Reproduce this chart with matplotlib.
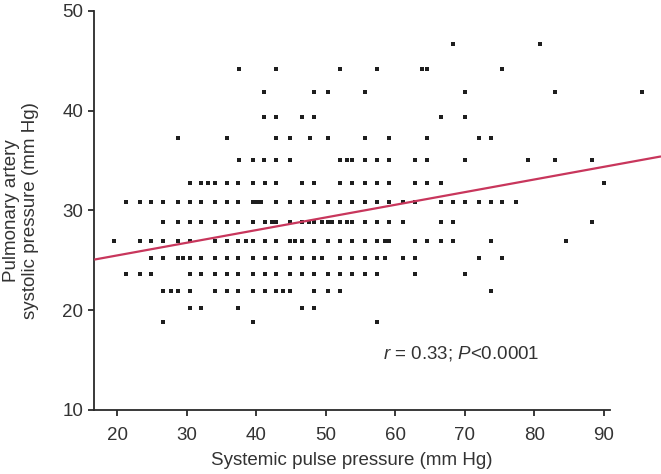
import matplotlib

matplotlib.use("Agg")
import matplotlib.pyplot as plt
import numpy as np

# PA systolic pressure levels (mm Hg) -- values are discretised, one list of
# systemic pulse pressures per level
pasp_levels = [46.7, 44.2, 41.9, 39.4, 37.2, 35.0, 32.7, 30.8,
               28.8, 26.9, 25.2, 23.6, 21.9, 20.2, 18.8]

pp_46_7 = [68.3, 80.8]
pp_44_2 = [37.5, 42.9, 52.0, 57.4, 63.9, 64.6, 75.4]
pp_41_9 = [41.1, 48.3, 50.3, 55.7, 70.0, 82.9, 95.4]
pp_39_4 = [41.1, 42.9, 46.6, 48.3, 66.6, 70.0]
pp_37_2 = [28.7, 35.8, 42.9, 44.9, 47.7, 50.3, 55.7, 59.1, 64.5, 72.0, 73.7]
pp_35_0 = [37.5, 39.5, 41.1, 42.9, 44.9, 52.0, 53.0, 53.7, 55.7, 57.4, 59.1,
           62.8, 64.5, 70.0, 79.1, 82.9, 88.3]
pp_32_7 = [30.4, 32.0, 33.1, 34.1, 35.8, 37.4, 39.5, 41.2, 42.9, 46.6, 48.3,
           52.0, 53.7, 55.7, 57.4, 59.1, 62.8, 64.5, 66.6, 90.0]
pp_30_8 = [21.2, 23.3, 24.9, 26.6, 28.7, 30.4, 32.0, 34.1, 35.8, 37.4, 39.5,
           40.1, 40.7, 42.9, 44.9, 46.6, 48.3, 50.3, 52.0, 53.7, 55.7, 57.4,
           59.1, 61.1, 62.8, 66.6, 68.3, 70.0, 72.0, 73.7, 75.4, 77.4]
pp_28_8 = [26.6, 28.7, 30.4, 32.0, 34.1, 35.8, 37.4, 39.5, 41.2, 42.2, 42.9,
           44.9, 46.6, 47.6, 48.3, 49.4, 50.3, 50.9, 52.0, 53.0, 53.7, 55.7,
           57.4, 59.1, 61.1, 66.6, 68.3, 88.3]
pp_26_9 = [19.5, 23.3, 24.9, 26.6, 28.7, 30.4, 34.1, 35.8, 37.4, 38.5, 39.5,
           41.2, 42.9, 44.9, 45.5, 46.6, 48.3, 50.3, 52.0, 53.7, 55.7, 57.4,
           58.5, 59.1, 62.8, 64.5, 66.6, 68.3, 73.7, 84.6]
pp_25_2 = [24.9, 26.6, 28.7, 29.4, 30.4, 32.0, 34.1, 35.8, 37.4, 39.5, 41.2,
           42.9, 44.9, 46.6, 48.3, 49.4, 52.0, 53.7, 55.7, 57.4, 58.5, 61.1,
           62.8, 72.0, 75.4]
pp_23_6 = [21.2, 23.3, 24.9, 30.4, 32.0, 34.1, 35.8, 37.4, 39.5, 41.2, 42.9,
           44.9, 46.6, 48.3, 50.3, 52.0, 53.7, 55.7, 57.4, 62.8, 70.0]
pp_21_9 = [26.6, 27.7, 28.7, 30.4, 34.1, 35.8, 37.4, 39.5, 41.2, 42.9, 43.9,
           44.9, 48.3, 50.3, 52.0, 73.7]
pp_20_2 = [30.4, 32.0, 37.4, 46.6, 48.3]
pp_18_8 = [26.6, 39.5, 57.4]

pp_rows = [pp_46_7, pp_44_2, pp_41_9, pp_39_4, pp_37_2, pp_35_0, pp_32_7,
           pp_30_8, pp_28_8, pp_26_9, pp_25_2, pp_23_6, pp_21_9, pp_20_2,
           pp_18_8]

# least-squares line as printed
FIT_INTERCEPT = 22.95
FIT_SLOPE = 0.1268
fit_x = [16.7, 98.2]

X_LIM = (16.7, 98.2)
X_AXIS_END = 90.8  # drawn x axis stops just past the last tick
Y_LIM = (10, 50)
x_ticks = [20, 30, 40, 50, 60, 70, 80, 90]
y_ticks = [10, 20, 30, 40, 50]

TEXT_COLOR = "#333333"
AXIS_COLOR = "#2a2a2a"
LINE_COLOR = "#c8365c"
FONT_SIZE = 13.5

plt.rcParams["font.family"] = ["Liberation Sans", "DejaVu Sans"]
plt.rcParams["mathtext.fontset"] = "custom"
plt.rcParams["mathtext.rm"] = "Liberation Sans"
plt.rcParams["mathtext.it"] = "Liberation Sans:italic"

fig = plt.figure(figsize=(6.61, 4.74), dpi=100)
ax = fig.add_axes([94.3 / 661, 64 / 474, (661 - 94.3) / 661, (410 - 10.7) / 474])

xs = np.concatenate([np.asarray(r, float) for r in pp_rows])
ys = np.concatenate([np.full(len(r), lvl) for r, lvl in zip(pp_rows, pasp_levels)])
ax.scatter(xs, ys, marker="s", s=11, color="#1e1e1e", linewidths=0, zorder=2)

fx = np.array(fit_x)
ax.plot(fx, FIT_INTERCEPT + FIT_SLOPE * fx, color=LINE_COLOR, lw=1.6, zorder=3,
        clip_on=False, solid_capstyle="butt")

ax.set_xlim(*X_LIM)
ax.set_ylim(*Y_LIM)
ax.set_xticks(x_ticks)
ax.set_yticks(y_ticks)
for side in ("top", "right"):
    ax.spines[side].set_visible(False)
for side in ("left", "bottom"):
    ax.spines[side].set_color(AXIS_COLOR)
    ax.spines[side].set_linewidth(1.3)
ax.spines["bottom"].set_bounds(X_LIM[0], X_AXIS_END)
ax.tick_params(direction="out", length=4, width=1.3, color=AXIS_COLOR,
               labelsize=FONT_SIZE, labelcolor=TEXT_COLOR)
ax.tick_params(axis="x", pad=8)
ax.tick_params(axis="y", pad=4)

ax.set_xlabel("Systemic pulse pressure (mm Hg)", fontsize=FONT_SIZE,
              color=TEXT_COLOR)
# x label is centred under the drawn part of the axis, not the full axes box
label_mid = ((X_LIM[0] + X_AXIS_END) / 2 - X_LIM[0]) / (X_LIM[1] - X_LIM[0])
ax.xaxis.set_label_coords(label_mid, -0.105)
ax.set_ylabel("Pulmonary artery\nsystolic pressure (mm Hg)", fontsize=FONT_SIZE,
              color=TEXT_COLOR, labelpad=17, linespacing=1.1)

ax.text(58.2, 15.7, r"$\it{r}$ = 0.33; $\it{P}$<0.0001", fontsize=FONT_SIZE,
        color=TEXT_COLOR, va="center", ha="left")

fig.savefig("out.png", dpi=100)
